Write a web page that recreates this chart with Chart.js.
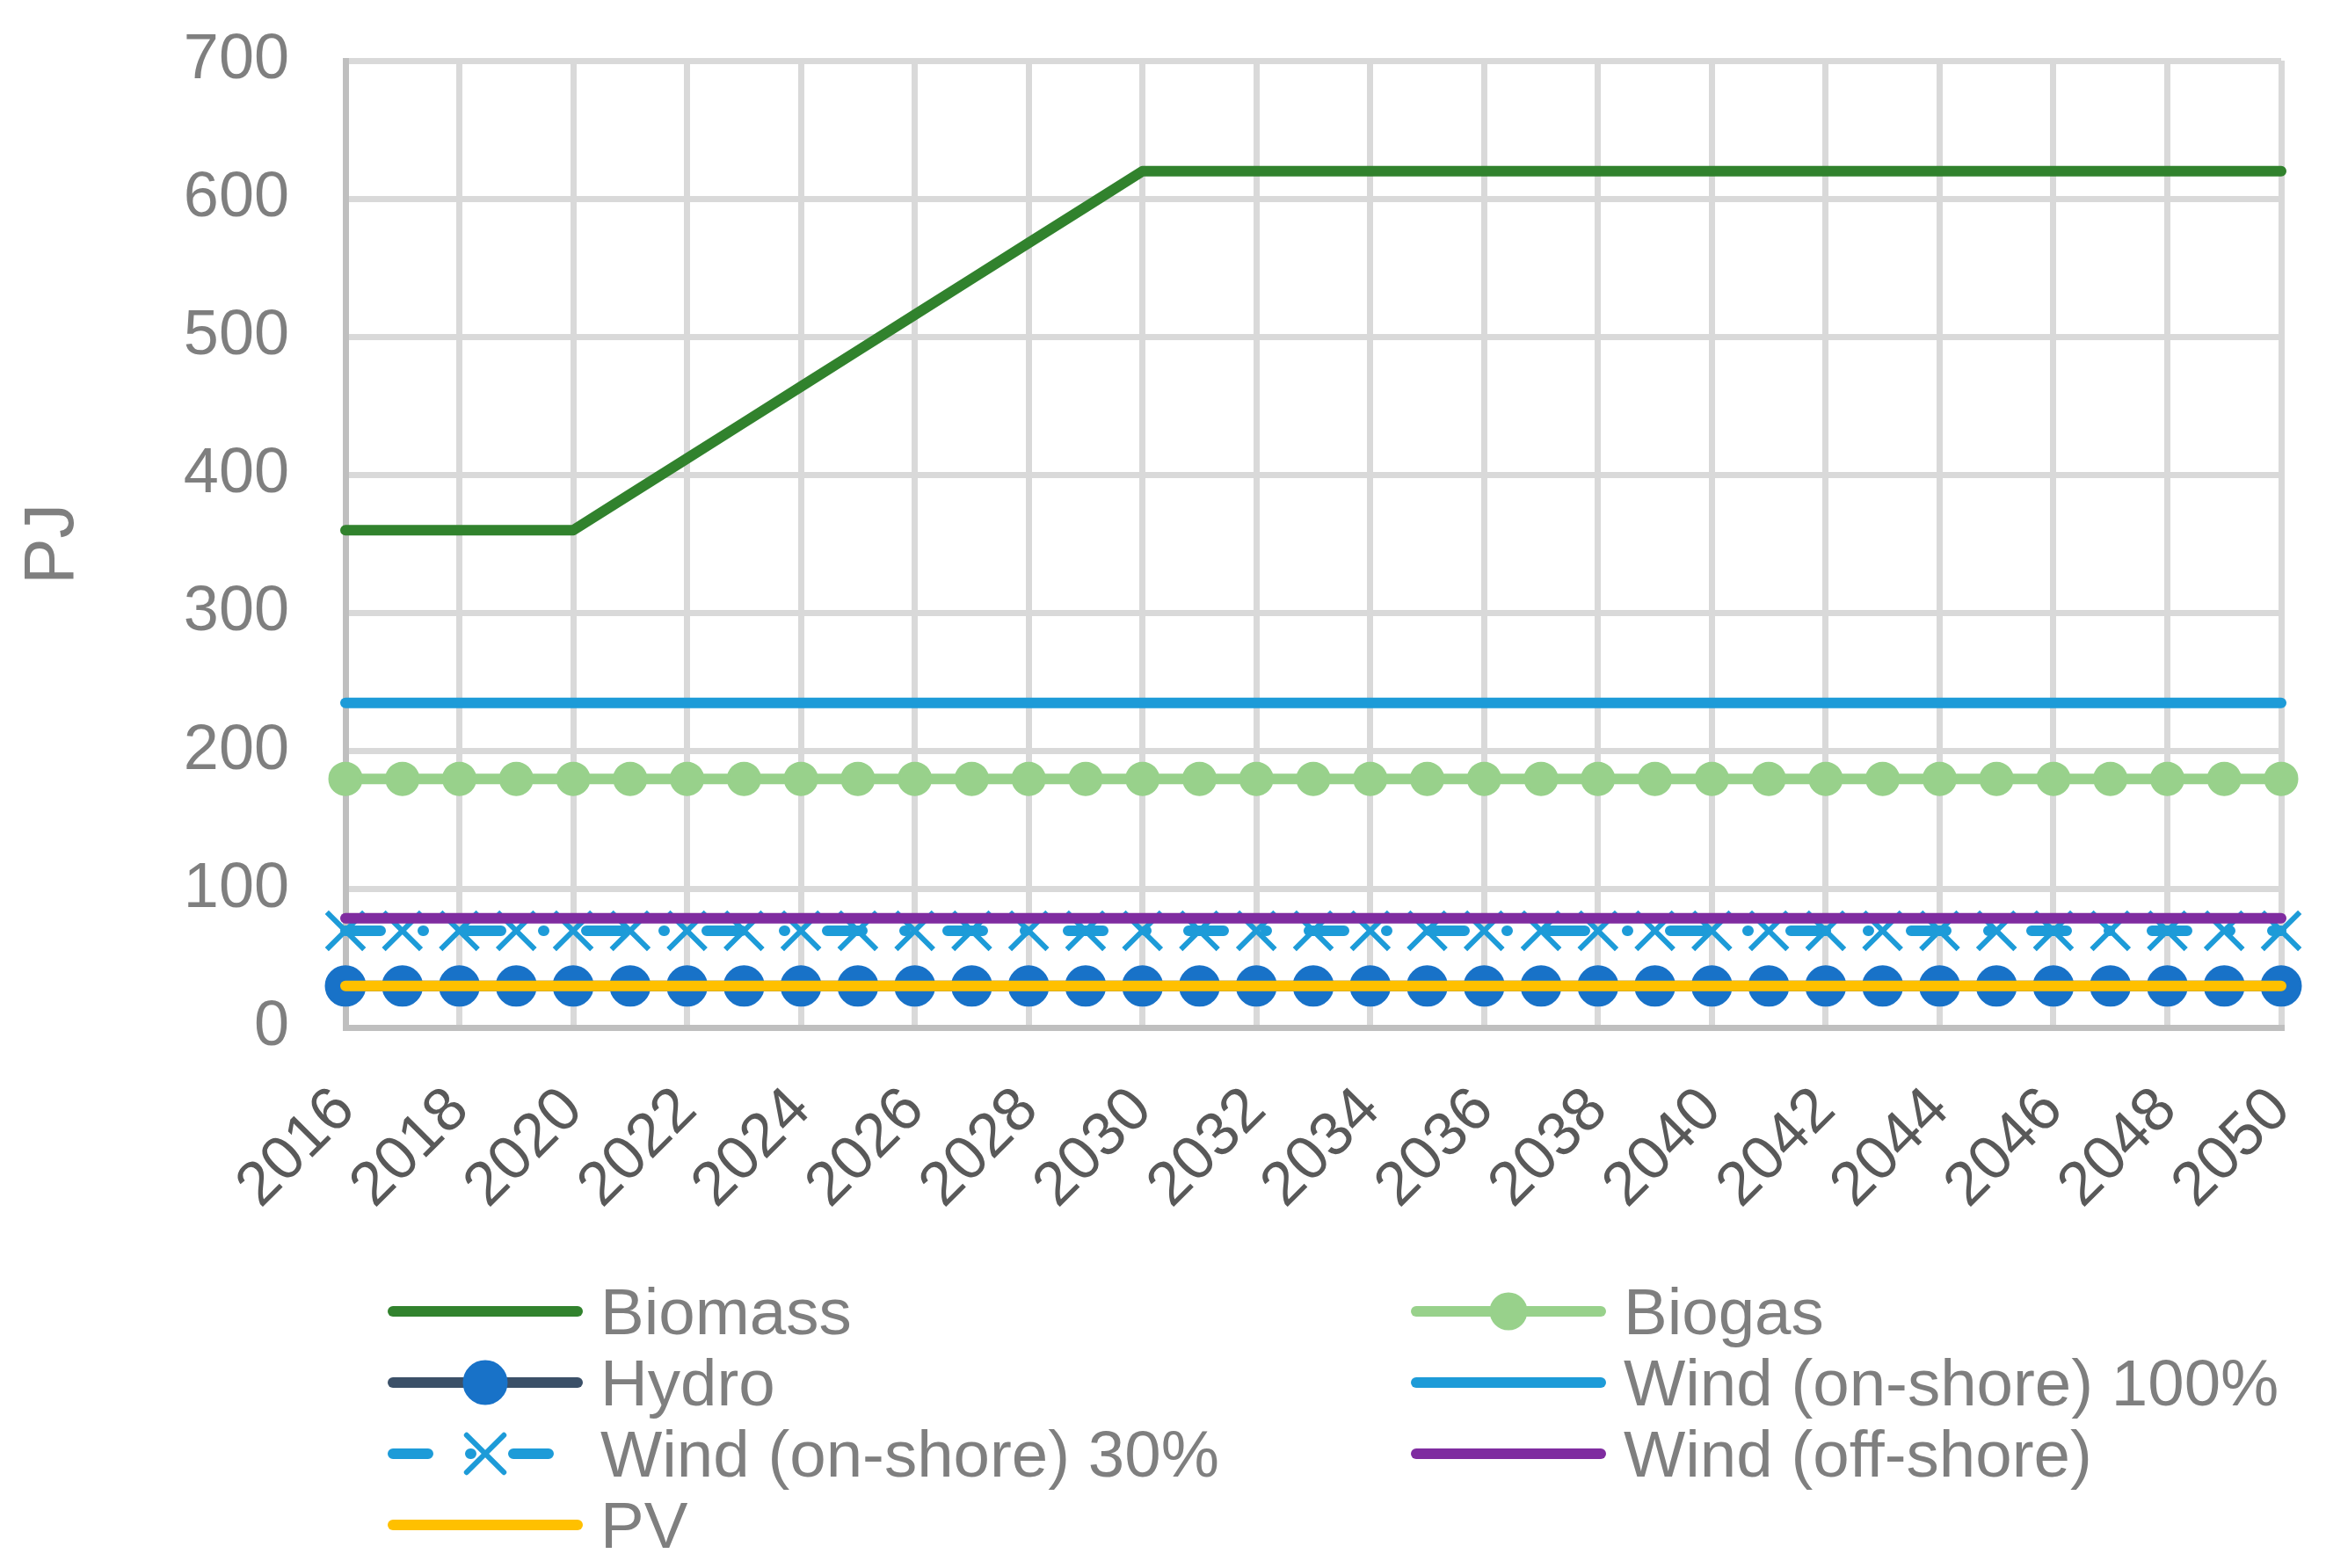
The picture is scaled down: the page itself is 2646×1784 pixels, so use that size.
<!DOCTYPE html>
<html lang="en">
<head>
    <meta charset="UTF-8">
    <title>PJ by source</title>
    <script src="https://cdn.jsdelivr.net/npm/chart.js"></script>
    <style>
        body {
            margin: 0;
            background: #ffffff;
        }
        #chart {
            display: block;
        }
    </style>
</head>
<body>

<canvas id="chart" width="2646" height="1784"></canvas>

<script>
    // Data
    const years = ['2016', '2017', '2018', '2019', '2020', '2021', '2022', '2023', '2024', '2025',
        '2026', '2027', '2028', '2029', '2030', '2031', '2032', '2033', '2034', '2035',
        '2036', '2037', '2038', '2039', '2040', '2041', '2042', '2043', '2044', '2045',
        '2046', '2047', '2048', '2049', '2050'];

    const biomass = [360, 360, 360, 360, 360, 386, 412, 438, 464, 490, 516, 542, 568, 594, 620,
        620, 620, 620, 620, 620, 620, 620, 620, 620, 620, 620, 620, 620, 620, 620, 620, 620, 620, 620, 620];
    const biogas = [180, 180, 180, 180, 180, 180, 180, 180, 180, 180, 180, 180, 180, 180, 180, 180, 180, 180,
        180, 180, 180, 180, 180, 180, 180, 180, 180, 180, 180, 180, 180, 180, 180, 180, 180];
    const hydro = [30, 30, 30, 30, 30, 30, 30, 30, 30, 30, 30, 30, 30, 30, 30, 30, 30, 30,
        30, 30, 30, 30, 30, 30, 30, 30, 30, 30, 30, 30, 30, 30, 30, 30, 30];
    const windOnshore100 = [235, 235, 235, 235, 235, 235, 235, 235, 235, 235, 235, 235, 235, 235, 235, 235, 235, 235,
        235, 235, 235, 235, 235, 235, 235, 235, 235, 235, 235, 235, 235, 235, 235, 235, 235];
    const windOnshore30 = [70, 70, 70, 70, 70, 70, 70, 70, 70, 70, 70, 70, 70, 70, 70, 70, 70, 70,
        70, 70, 70, 70, 70, 70, 70, 70, 70, 70, 70, 70, 70, 70, 70, 70, 70];
    const windOffshore = [79, 79, 79, 79, 79, 79, 79, 79, 79, 79, 79, 79, 79, 79, 79, 79, 79, 79,
        79, 79, 79, 79, 79, 79, 79, 79, 79, 79, 79, 79, 79, 79, 79, 79, 79];
    const pv = [30, 30, 30, 30, 30, 30, 30, 30, 30, 30, 30, 30, 30, 30, 30, 30, 30, 30,
        30, 30, 30, 30, 30, 30, 30, 30, 30, 30, 30, 30, 30, 30, 30, 30, 30];

    const yTicks = [0, 100, 200, 300, 400, 500, 600, 700];

    Chart.defaults.font.family = '"Liberation Sans", Arial, sans-serif';

    function lineSet(label, data, color, order, extra) {
        return Object.assign({
            label: label,
            data: data,
            borderColor: color,
            backgroundColor: color,
            borderWidth: 12,
            borderCapStyle: 'round',
            borderJoinStyle: 'round',
            pointRadius: 0,
            pointHoverRadius: 0,
            tension: 0,
            fill: false,
            clip: false,
            order: order
        }, extra || {});
    }

    const datasets = [
        lineSet('Biomass', biomass, '#31822d', 6),
        lineSet('Biogas', biogas, '#98d18b', 5, {
            pointStyle: 'circle', pointRadius: 18, pointBorderWidth: 3,
            pointBackgroundColor: '#98d18b', pointBorderColor: '#98d18b'
        }),
        lineSet('Hydro', hydro, '#3b5068', 4, {
            pointStyle: 'circle', pointRadius: 22, pointBorderWidth: 3,
            pointBackgroundColor: '#1872c8', pointBorderColor: '#1872c8'
        }),
        lineSet('Wind (on-shore) 100%', windOnshore100, '#1d9bd8', 3),
        lineSet('Wind (on-shore) 30%', windOnshore30, '#1d9bd8', 2, {
            borderDash: [40, 48, 1, 48],
            pointStyle: 'crossRot', pointRadius: 30, pointBorderWidth: 6,
            pointBackgroundColor: '#1d9bd8', pointBorderColor: '#1d9bd8'
        }),
        lineSet('Wind (off-shore)', windOffshore, '#7f2ca0', 1),
        lineSet('PV', pv, '#ffc000', 0)
    ];

    // Two-column legend under the plot, like the Excel original
    const twoColumnLegend = {
        id: 'twoColumnLegend',
        afterDraw(chart) {
            const ctx = chart.ctx;
            const firstRow = chart.chartArea.bottom + 323;
            chart.data.datasets.forEach((ds, i) => {
                const x0 = (i % 2) ? 1605 : 441;
                const y = firstRow + Math.floor(i / 2) * 81;
                ctx.save();
                ctx.strokeStyle = ds.borderColor;
                ctx.lineWidth = ds.borderWidth;
                ctx.lineCap = 'round';
                ctx.setLineDash(ds.borderDash || []);
                ctx.beginPath();
                ctx.moveTo(x0 + 6, y);
                ctx.lineTo(x0 + 216, y);
                ctx.stroke();
                ctx.setLineDash([]);
                if (ds.pointRadius > 0) {
                    const r = ds.pointStyle === 'crossRot' ? ds.pointRadius : ds.pointRadius + 2;
                    ctx.fillStyle = ds.pointBackgroundColor;
                    ctx.strokeStyle = ds.pointBorderColor;
                    ctx.lineWidth = ds.pointBorderWidth;
                    if (Chart.helpers && Chart.helpers.drawPoint) {
                        Chart.helpers.drawPoint(ctx, {
                            pointStyle: ds.pointStyle, radius: r,
                            borderWidth: ds.pointBorderWidth, rotation: 0
                        }, x0 + 111, y);
                    } else {
                        ctx.beginPath();
                        ctx.arc(x0 + 111, y, r, 0, Math.PI * 2);
                        ctx.fill();
                    }
                }
                ctx.fillStyle = '#7f7f7f';
                ctx.font = '74.5px "Liberation Sans", Arial, sans-serif';
                ctx.textBaseline = 'alphabetic';
                ctx.textAlign = 'left';
                ctx.fillText(ds.label, x0 + 242, y + 26);
                ctx.restore();
            });
        }
    };

    new Chart(document.getElementById('chart').getContext('2d'), {
        type: 'line',
        data: {
            labels: years,
            datasets: datasets
        },
        options: {
            responsive: false,
            animation: false,
            devicePixelRatio: 1,
            layout: {
                padding: { top: 69, right: 51, bottom: 0, left: 0 }
            },
            plugins: {
                legend: { display: false },
                tooltip: { enabled: false }
            },
            scales: {
                x: {
                    offset: false,
                    afterFit: scale => {
                        scale.height = 615;
                        scale.paddingRight = 0;
                    },
                    grid: {
                        drawTicks: false,
                        lineWidth: 7,
                        color: ctx => (ctx.index % 2 ? 'rgba(0,0,0,0)' : '#d9d9d9')
                    },
                    border: { color: '#bfbfbf', width: 7 },
                    ticks: {
                        autoSkip: false,
                        minRotation: 45,
                        maxRotation: 45,
                        padding: 53,
                        color: '#595959',
                        font: { size: 70 },
                        callback: function (value, index) {
                            return index % 2 ? '' : this.getLabelForValue(value);
                        }
                    }
                },
                y: {
                    min: yTicks[0],
                    max: yTicks[yTicks.length - 1],
                    afterFit: scale => {
                        scale.width = 393;
                        scale.paddingTop = 0;
                        scale.paddingBottom = 0;
                    },
                    grid: {
                        drawTicks: false,
                        lineWidth: 7,
                        color: '#d9d9d9'
                    },
                    border: { color: '#bfbfbf', width: 7 },
                    ticks: {
                        stepSize: 100,
                        padding: 64,
                        color: '#7f7f7f',
                        font: { size: 72 }
                    },
                    title: {
                        display: true,
                        text: 'PJ',
                        color: '#7f7f7f',
                        font: { size: 79 },
                        padding: { top: 14, bottom: 0 }
                    }
                }
            }
        },
        plugins: [twoColumnLegend]
    });
</script>
</body>
</html>
